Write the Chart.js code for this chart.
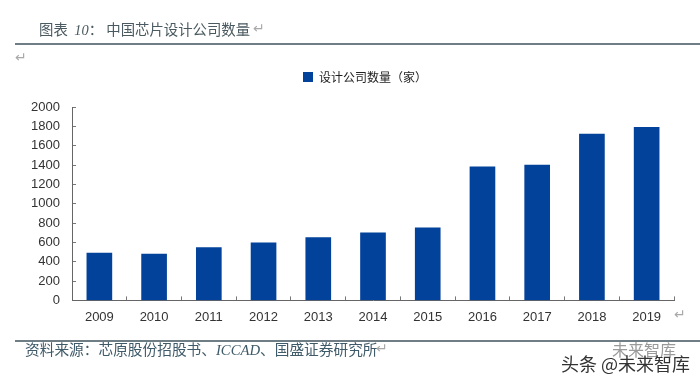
<!DOCTYPE html>
<html><head><meta charset="utf-8">
<script src="https://cdn.jsdelivr.net/npm/chart.js@4"></script>
<style>
html,body{margin:0;padding:0;background:#fff;width:700px;height:382px;overflow:hidden}
#wrap{position:relative;width:700px;height:382px}
canvas{position:absolute;left:0;top:0}
.t{position:absolute;white-space:pre;font-family:"Noto Sans CJK SC",sans-serif}
.r{position:absolute;height:2px;background:#6f7d84}
.m{position:absolute;color:#a9a9a9;font:14px "DejaVu Sans",sans-serif}
i{font-family:"Liberation Serif",serif}
</style></head><body>
<div id="wrap">
<canvas id="c" width="700" height="382"></canvas>
<div class="r" style="left:15px;top:43px;width:685px"></div>
<div class="r" style="left:15px;top:340px;width:685px"></div>
<div class="t" id="title" style="left:39px;top:17px;font-size:14.4px;line-height:24px;color:#4a5a60"></div>
<div class="t" id="source" style="left:25px;top:337px;font-size:14.7px;line-height:24px;color:#3f5a68"></div>
<div class="m" style="left:15px;top:49px">↵</div>
<div class="m" style="left:674px;top:306px">↵</div>
<div class="m" style="left:253px;top:20px">↵</div>
<div class="m" style="left:376px;top:340px">↵</div>
<div class="t" id="wm2" style="left:612px;top:340px;font-size:16px;line-height:18px;color:#9a9a9a"></div>
<div class="t" id="wm" style="left:561px;top:351px;font-size:18px;line-height:24px;color:#333"></div>
</div>
<script>
const titleHead = '图表  ';
const titleNumber = '10';
const titleTail = '\uFF1A 中国芯片设计公司数量';
const sourceHead = '资料来源\uFF1A芯原股份招股书、';
const sourceItalic = 'ICCAD';
const sourceTail = '、国盛证券研究所';
const watermark = '头条 @未来智库';
const watermarkBack = '未来智库';
const seriesName = '设计公司数量\uFF08家\uFF09';
const years = ['2009','2010','2011','2012','2013','2014','2015','2016','2017','2018','2019'];
const companies = [490,480,545,595,650,700,750,1380,1400,1720,1790];
const yTicks = [0,200,400,600,800,1000,1200,1400,1600,1800,2000];

function fill(id, a, b, c) {
  const el = document.getElementById(id);
  el.append(a);
  const it = document.createElement('i');
  it.textContent = b;
  el.append(it, c);
}
fill('title', titleHead, titleNumber, titleTail);
fill('source', sourceHead, sourceItalic, sourceTail);
document.getElementById('wm').textContent = watermark;
document.getElementById('wm2').textContent = watermarkBack;

const legendGap = {
  id: 'legendGap',
  beforeInit(chart) {
    const fit = chart.legend.fit;
    chart.legend.fit = function () { fit.call(this); this.height += 14; };
  },
  afterLayout(chart) {
    chart.legend.left = 56;
    chart.legend.right = 674;
  }
};

new Chart(document.getElementById('c'), {
  type: 'bar',
  data: { labels: years, datasets: [{ label: seriesName, data: companies, backgroundColor: '#03429a', barThickness: 25 }] },
  plugins: [legendGap],
  options: {
    responsive: false, animation: false,
    layout: { padding: { left: 0, right: 26, top: 63, bottom: 44 } },
    plugins: {
      tooltip: { enabled: false },
      legend: { display: true, position: 'top', align: 'center',
        labels: { boxWidth: 10, boxHeight: 10, padding: 8, color: '#222',
          font: { family: '"Noto Sans CJK SC",sans-serif', size: 12 } } }
    },
    scales: {
      x: {
        grid: { drawOnChartArea: false, drawTicks: true, tickLength: -4, color: '#777', offset: true },
        border: { color: '#666', width: 1 },
        ticks: { color: '#333', font: { family: 'Liberation Sans, sans-serif', size: 13 }, padding: 13, maxRotation: 0 }
      },
      y: {
        min: 0, max: 2000,
        afterFit(s) { s.width = 72; },
        afterBuildTicks(s) { s.ticks = yTicks.map(v => ({ value: v })); },
        grid: { drawOnChartArea: false, drawTicks: true, tickLength: -4, color: '#777' },
        border: { color: '#666', width: 1 },
        ticks: { autoSkip: false, color: '#333', font: { family: 'Liberation Sans, sans-serif', size: 13 }, padding: 16,
          callback: v => String(v) }
      }
    }
  }
});
</script>
</body></html>
